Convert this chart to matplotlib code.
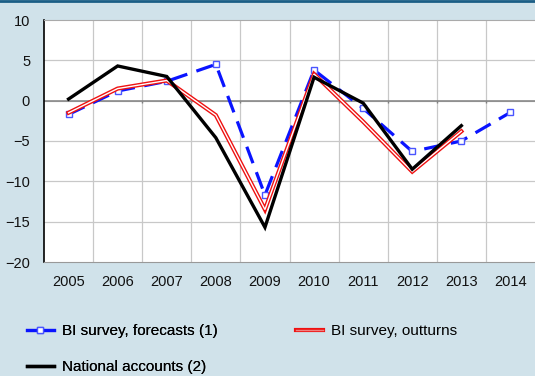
import matplotlib
matplotlib.use("Agg")
import matplotlib.pyplot as plt
from matplotlib.lines import Line2D
from matplotlib.legend_handler import HandlerTuple
import numpy as np

plt.rcParams['font.family'] = ['Liberation Sans', 'DejaVu Sans']

years = ["2005", "2006", "2007", "2008", "2009", "2010", "2011", "2012", "2013", "2014"]
forecasts = [-1.7, 1.2, 2.4, 4.5, -11.7, 3.8, -0.95, -6.3, -5.0, -1.45]
outturns = [-1.5, 1.5, 2.5, -1.8, -13.5, 3.3, -2.6, -8.8, -3.8]
national = [0.2, 4.3, 3.0, -4.6, -15.7, 2.9, -0.3, -8.5, -3.1]

BG = "#d0e2ea"
fig = plt.figure(figsize=(5.35, 3.76), dpi=100, facecolor=BG)
ax = fig.add_axes([44 / 535, 1 - 262 / 376, 1 - 44 / 535, (262 - 20) / 376])
ax.set_facecolor("white")

x = np.arange(len(years))
ax.set_xlim(-0.5, len(years) - 0.5)
ax.set_ylim(-20, 10)

# grid at category boundaries and at each y tick
bounds = np.arange(-0.5, len(years) - 0.5 + 0.01, 1.0)
for b in bounds[1:-1]:
    ax.axvline(b, color="#c8c8c8", lw=0.9, zorder=1)
for yv in range(-15, 10, 5):
    ax.axhline(yv, color="#c8c8c8", lw=0.9, zorder=1)
ax.axhline(0, color="#808080", lw=1.1, zorder=2)
ax.vlines(bounds[1:-1], -0.35, 0, color="#808080", lw=1.0, zorder=2)

# series
ax.plot(x[:len(forecasts)], forecasts, color="#0a14ff", lw=2.3, dashes=(5.5, 3.0),
        marker="s", ms=5, mfc="white", mec="#4a55ff", mew=1.0, zorder=4)
ax.plot(x[:len(outturns)], outturns, color="#ee1111", lw=3.0, zorder=5,
        solid_joinstyle="miter")
ax.plot(x[:len(outturns)], outturns, color="white", lw=1.0, zorder=5,
        solid_joinstyle="miter")
ax.plot(x[:len(national)], national, color="black", lw=2.4, zorder=6,
        solid_joinstyle="miter")

ax.set_xticks(x)
ax.set_xticklabels(years)
ax.set_yticks(range(-20, 11, 5))
ax.tick_params(axis="both", length=0, labelsize=10.5, colors="#111111")
ax.tick_params(axis="x", pad=9.5)
ax.tick_params(axis="y", pad=10)

ax.spines["right"].set_visible(False)
ax.spines["top"].set_color("#aaaaaa")
ax.spines["bottom"].set_color("#999999")
ax.spines["left"].set_color("black")
ax.spines["left"].set_linewidth(1.2)

# dark rule along the top edge
fig.add_artist(Line2D([0, 1], [1 - 1 / 376, 1 - 1 / 376], transform=fig.transFigure,
                      color="#1b5e86", lw=2.0))

# legends
h_fc = Line2D([], [], color="#0a14ff", lw=2.3, marker="s", ms=5, mfc="white",
              mec="#4a55ff", mew=1.0)
h_na = Line2D([], [], color="black", lw=2.4)
h_out_r = Line2D([], [], color="#ee1111", lw=3.0)
h_out_w = Line2D([], [], color="#f08080", lw=1.0)

leg1 = fig.legend([h_fc, h_na], ["BI survey, forecasts (1)", "National accounts (2)"],
                  loc="upper left", bbox_to_anchor=(27 / 535, 1 - 324 / 376),
                  frameon=False, fontsize=11, handlelength=1.75, handletextpad=0.55,
                  labelspacing=1.45, borderpad=0, borderaxespad=0)
fig.add_artist(leg1)
fig.legend([(h_out_r, h_out_w)], ["BI survey, outturns"],
           handler_map={tuple: HandlerTuple(ndivide=1)},
           loc="upper left", bbox_to_anchor=(296 / 535, 1 - 324 / 376),
           frameon=False, fontsize=11, handlelength=1.75, handletextpad=0.55,
           borderpad=0, borderaxespad=0)

fig.savefig("out.png", dpi=100, facecolor=BG)
